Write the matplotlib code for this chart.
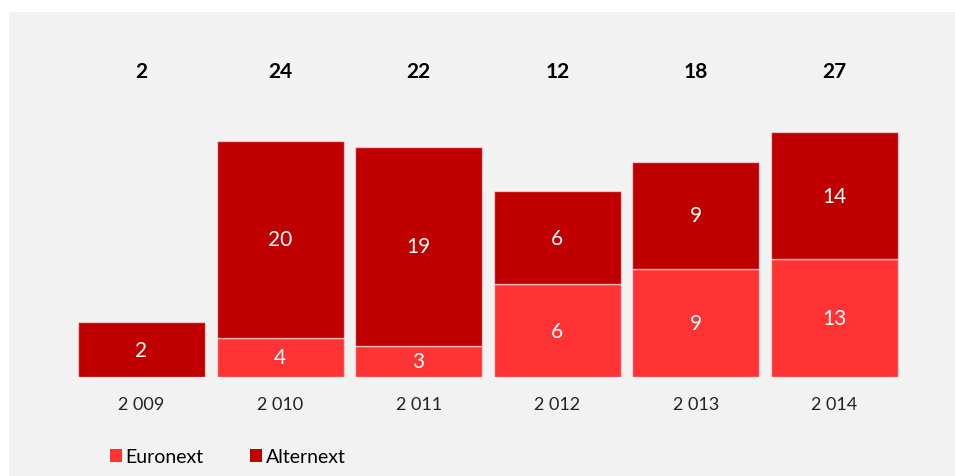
import numpy as np
import matplotlib
matplotlib.use("Agg")
import matplotlib.pyplot as plt
from matplotlib.patches import Rectangle, Patch

years = ["2 009", "2 010", "2 011", "2 012", "2 013", "2 014"]
euronext = [0, 4, 3, 6, 9, 13]
alternext = [2, 20, 19, 6, 9, 14]
totals = [2, 24, 22, 12, 18, 27]

c_euro = "#FF3333"
c_alt = "#C00000"

plt.rcParams['font.family'] = ['Lato', 'DejaVu Sans']

W, H = 955, 477
fig = plt.figure(figsize=(W / 100, H / 100), dpi=100)
fig.patch.set_facecolor("white")
fig.patches.append(Rectangle((9 / W, 0), 1, (H - 13) / H, transform=fig.transFigure,
                             facecolor="#F2F2F2", edgecolor="none", zorder=-10))

scale = 73.0
offset = 0.06
base = 378
top = 42.75
left_px, right_px = 72.2, 903.8
ax = fig.add_axes([left_px / W, (H - base) / H, (right_px - left_px) / W, (base - top) / H])
ax.set_facecolor("none")

x = np.arange(len(years))
tot = np.array(totals, dtype=float)
h_total = np.log(tot) + offset
h_euro = h_total * np.array(euronext) / tot
h_alt = h_total - h_euro
width = 0.916

edge = (1, 1, 1, 0.55)
ax.bar(x, h_euro, width, color=c_euro, edgecolor=edge, linewidth=1)
ax.bar(x, h_alt, width, bottom=h_euro, color=c_alt, edgecolor=edge, linewidth=1)

for i in range(len(years)):
    if euronext[i] > 0:
        ax.text(x[i], h_euro[i] / 2, str(euronext[i]), ha="center", va="center",
                color="white", fontsize=15)
    if alternext[i] > 0:
        ax.text(x[i], h_euro[i] + h_alt[i] / 2, str(alternext[i]), ha="center", va="center",
                color="white", fontsize=15)
    ax.text(x[i], (base - 72) / scale, str(totals[i]), ha="center", va="center",
            color="black", fontsize=15, fontweight="bold")

ax.set_xlim(-0.5, len(years) - 0.5)
ax.set_ylim(0, (base - top) / scale)
ax.set_xticks(x)
ax.set_xticklabels(years, fontsize=13, color="#222222")
ax.tick_params(axis="x", length=0, pad=14)
ax.set_yticks([])
for s in ax.spines.values():
    s.set_visible(False)

handles = [Patch(facecolor=c_euro, label="Euronext"), Patch(facecolor=c_alt, label="Alternext")]
fig.legend(handles=handles, loc="center left", bbox_to_anchor=(110 / W, 1 - 458 / H),
           ncol=2, frameon=False, fontsize=14, handlelength=0.6, handleheight=0.6,
           handletextpad=0.2, columnspacing=2.4, borderpad=0, borderaxespad=0)

fig.savefig("out.png", dpi=100)
